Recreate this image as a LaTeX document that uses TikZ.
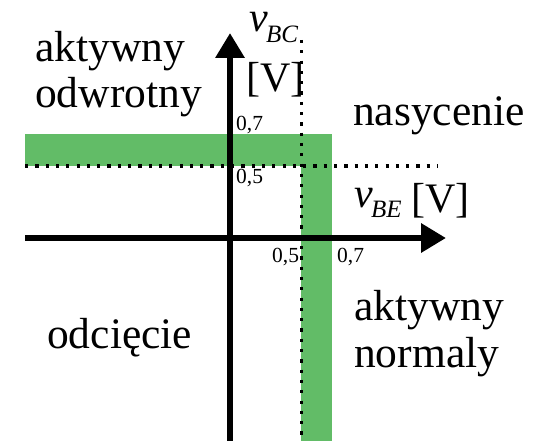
\documentclass[tikz,border=0pt]{standalone}
\usepackage{fontspec}
\setmainfont{Liberation Serif}
\usetikzlibrary{arrows.meta}
\definecolor{bandgreen}{RGB}{98,188,103}
\tikzset{
  axis/.style={line width=6.5pt, -{Triangle[length=25pt,width=28pt]}},
  band/.style={fill=bandgreen, draw=none},
  dotline/.style={line width=3.2pt, dash pattern=on 3.2pt off 7.1pt},
  region/.style={font=\fontsize{43.5}{48}\selectfont, anchor=base west, inner sep=0pt, align=left},
  tick/.style={font=\fontsize{21.5}{24}\selectfont, anchor=base west, inner sep=0pt},
  unit/.style={font=\fontsize{42}{48}\selectfont, anchor=base west, inner sep=0pt},
}
\begin{document}
\begin{tikzpicture}[x=1pt,y=-1pt]
  \useasboundingbox (0,0) rectangle (538,441);

  % saturation-threshold bands (0.5 V ... 0.7 V)
  \fill[band] (25,134) rectangle (332,166);
  \fill[band] (301,134) rectangle (332,441);

  % 0.5 V threshold lines
  \coordinate (hl0) at (25,166);
  \coordinate (hl1) at (438,166);
  \coordinate (vl0) at (301.5,40);
  \coordinate (vl1) at (301.5,441);
  \draw[dotline] (hl0) -- (hl1);
  \draw[dotline] (vl0) -- (vl1);

  % axes
  \coordinate (xa0) at (25,238);
  \coordinate (xa1) at (446,238);
  \coordinate (ya0) at (230,441);
  \coordinate (ya1) at (230,33);
  \draw[axis] (xa0) -- (xa1);
  \draw[axis] (ya0) -- (ya1);

  % axis labels
  \node[unit] (vbc) at (249,32) {\itshape v};
  \node[tick, font=\fontsize{25}{28}\selectfont\itshape] (vbcsub) at (266,43) {BC};
  \node[unit] (vbcu) at (246,92) {[V]};
  \node[unit] (vbe) at (354,207) {\itshape v};
  \node[tick, font=\fontsize{25}{28}\selectfont\itshape] (vbesub) at (371,217) {BE};
  \node[unit] (vbeu) at (411,212) {[V]};

  % tick values
  \node[tick] (y07) at (236,131) {0,7};
  \node[tick] (y05) at (236,183) {0,5};
  \node[tick] (x05) at (272,262) {0,5};
  \node[tick] (x07) at (337,262) {0,7};

  % operating regions
  \node[region] (rev1) at (35,62) {aktywny};
  \node[region] (rev2) at (35,108) {odwrotny};
  \node[region] (sat) at (353,125) {nasycenie};
  \node[region] (fwd1) at (354,320) {aktywny};
  \node[region] (fwd2) at (354,367) {normaly};
  \node[region] (cut) at (47,348) {odcięcie};
\end{tikzpicture}
\end{document}
